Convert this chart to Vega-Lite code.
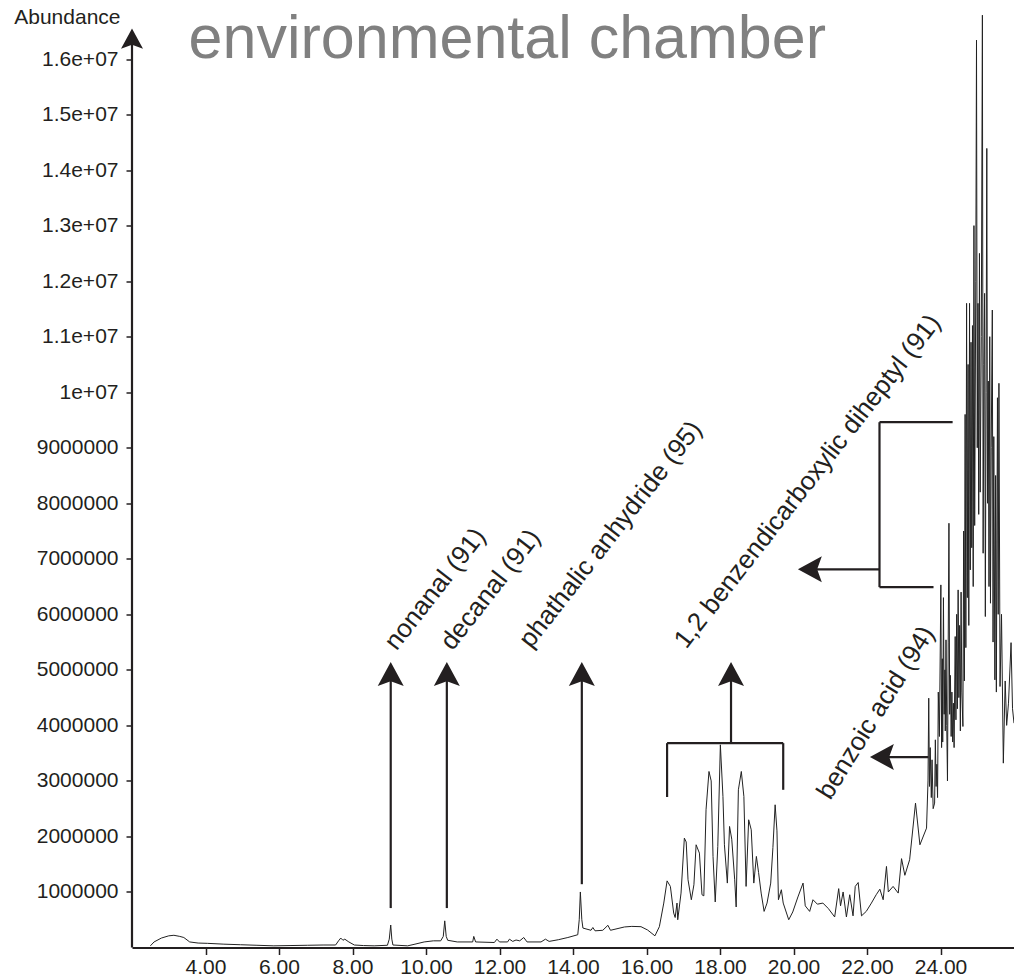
{
  "$schema": "https://vega.github.io/schema/vega-lite/v6.json",
  "width": 882,
  "height": 944,
  "autosize": {"type": "none"},
  "padding": {"left": 132, "top": 3.5, "right": 0, "bottom": 32.5},
  "background": "white",
  "config": {"view": {"stroke": null}, "font": "Liberation Sans"},
  "datasets": {
    "trace": [
      {"t": 2.5, "a": 30000}, {"t": 2.6, "a": 100000}, {"t": 2.8, "a": 170000}, {"t": 3.0, "a": 210000}, {"t": 3.14, "a": 220000}, {"t": 3.3, "a": 200000}, {"t": 3.41, "a": 180000}, {"t": 3.57, "a": 100000}, {"t": 3.8, "a": 80000}, {"t": 4.05, "a": 75000}, {"t": 4.5, "a": 60000}, {"t": 4.95, "a": 50000}, {"t": 5.4, "a": 40000}, {"t": 5.86, "a": 30000}, {"t": 6.3, "a": 35000}, {"t": 6.77, "a": 40000}, {"t": 7.2, "a": 45000}, {"t": 7.54, "a": 45000}, {"t": 7.62, "a": 120000}, {"t": 7.68, "a": 170000}, {"t": 7.74, "a": 130000}, {"t": 7.79, "a": 150000}, {"t": 7.9, "a": 100000}, {"t": 8.05, "a": 45000}, {"t": 8.3, "a": 35000}, {"t": 8.59, "a": 30000}, {"t": 8.95, "a": 40000}, {"t": 9.0, "a": 150000}, {"t": 9.04, "a": 405000}, {"t": 9.07, "a": 150000}, {"t": 9.1, "a": 45000}, {"t": 9.5, "a": 30000}, {"t": 9.7, "a": 60000}, {"t": 9.95, "a": 100000}, {"t": 10.2, "a": 120000}, {"t": 10.4, "a": 120000}, {"t": 10.47, "a": 200000}, {"t": 10.51, "a": 480000}, {"t": 10.55, "a": 200000}, {"t": 10.59, "a": 130000}, {"t": 10.85, "a": 100000}, {"t": 11.27, "a": 100000}, {"t": 11.3, "a": 200000}, {"t": 11.35, "a": 100000}, {"t": 11.86, "a": 90000}, {"t": 11.93, "a": 150000}, {"t": 12.0, "a": 100000}, {"t": 12.22, "a": 100000}, {"t": 12.27, "a": 150000}, {"t": 12.36, "a": 110000}, {"t": 12.45, "a": 135000}, {"t": 12.55, "a": 120000}, {"t": 12.66, "a": 180000}, {"t": 12.75, "a": 100000}, {"t": 13.13, "a": 100000}, {"t": 13.25, "a": 150000}, {"t": 13.35, "a": 110000}, {"t": 13.6, "a": 140000}, {"t": 13.86, "a": 180000}, {"t": 14.13, "a": 230000}, {"t": 14.17, "a": 500000}, {"t": 14.2, "a": 1000000}, {"t": 14.24, "a": 500000}, {"t": 14.27, "a": 350000}, {"t": 14.49, "a": 310000}, {"t": 14.54, "a": 360000}, {"t": 14.6, "a": 300000}, {"t": 14.81, "a": 310000}, {"t": 14.95, "a": 400000}, {"t": 15.02, "a": 310000}, {"t": 15.4, "a": 370000}, {"t": 15.6, "a": 380000}, {"t": 15.85, "a": 375000}, {"t": 16.03, "a": 315000}, {"t": 16.23, "a": 210000}, {"t": 16.35, "a": 375000}, {"t": 16.47, "a": 800000}, {"t": 16.56, "a": 1200000}, {"t": 16.65, "a": 1100000}, {"t": 16.74, "a": 620000}, {"t": 16.78, "a": 540000}, {"t": 16.83, "a": 800000}, {"t": 16.85, "a": 500000}, {"t": 16.94, "a": 980000}, {"t": 17.03, "a": 1970000}, {"t": 17.08, "a": 1900000}, {"t": 17.13, "a": 1220000}, {"t": 17.22, "a": 860000}, {"t": 17.29, "a": 1130000}, {"t": 17.35, "a": 1850000}, {"t": 17.44, "a": 1700000}, {"t": 17.51, "a": 950000}, {"t": 17.56, "a": 930000}, {"t": 17.62, "a": 2480000}, {"t": 17.7, "a": 3170000}, {"t": 17.76, "a": 3000000}, {"t": 17.81, "a": 1640000}, {"t": 17.87, "a": 820000}, {"t": 17.94, "a": 1820000}, {"t": 18.01, "a": 3650000}, {"t": 18.08, "a": 2720000}, {"t": 18.12, "a": 1850000}, {"t": 18.2, "a": 1160000}, {"t": 18.26, "a": 2180000}, {"t": 18.32, "a": 1950000}, {"t": 18.4, "a": 1220000}, {"t": 18.44, "a": 730000}, {"t": 18.5, "a": 2840000}, {"t": 18.58, "a": 3170000}, {"t": 18.65, "a": 2720000}, {"t": 18.71, "a": 1100000}, {"t": 18.78, "a": 2300000}, {"t": 18.85, "a": 2120000}, {"t": 18.92, "a": 1160000}, {"t": 18.99, "a": 1640000}, {"t": 19.05, "a": 1350000}, {"t": 19.12, "a": 980000}, {"t": 19.2, "a": 650000}, {"t": 19.28, "a": 800000}, {"t": 19.38, "a": 1160000}, {"t": 19.44, "a": 1800000}, {"t": 19.5, "a": 2570000}, {"t": 19.55, "a": 2100000}, {"t": 19.59, "a": 860000}, {"t": 19.67, "a": 1040000}, {"t": 19.72, "a": 800000}, {"t": 19.87, "a": 500000}, {"t": 19.98, "a": 640000}, {"t": 20.12, "a": 910000}, {"t": 20.26, "a": 1160000}, {"t": 20.32, "a": 750000}, {"t": 20.44, "a": 650000}, {"t": 20.53, "a": 860000}, {"t": 20.65, "a": 780000}, {"t": 20.8, "a": 800000}, {"t": 20.95, "a": 700000}, {"t": 21.12, "a": 550000}, {"t": 21.23, "a": 1060000}, {"t": 21.28, "a": 750000}, {"t": 21.35, "a": 1000000}, {"t": 21.44, "a": 550000}, {"t": 21.53, "a": 950000}, {"t": 21.62, "a": 570000}, {"t": 21.68, "a": 1100000}, {"t": 21.76, "a": 1170000}, {"t": 21.85, "a": 570000}, {"t": 21.98, "a": 650000}, {"t": 22.12, "a": 800000}, {"t": 22.25, "a": 950000}, {"t": 22.35, "a": 1050000}, {"t": 22.44, "a": 860000}, {"t": 22.53, "a": 1460000}, {"t": 22.58, "a": 1000000}, {"t": 22.71, "a": 1100000}, {"t": 22.85, "a": 980000}, {"t": 22.94, "a": 1600000}, {"t": 23.03, "a": 1300000}, {"t": 23.16, "a": 1580000}, {"t": 23.32, "a": 2600000}, {"t": 23.44, "a": 1850000}, {"t": 23.62, "a": 2150000},
      {"t": 23.66, "a": 3000000}, {"t": 23.68, "a": 4490000}, {"t": 23.7, "a": 2900000}, {"t": 23.72, "a": 3600000}, {"t": 23.75, "a": 2700000}, {"t": 23.77, "a": 3380000}, {"t": 23.8, "a": 2500000}, {"t": 23.84, "a": 2600000}, {"t": 23.86, "a": 3740000}, {"t": 23.88, "a": 2900000}, {"t": 23.9, "a": 3300000}, {"t": 23.92, "a": 2700000}, {"t": 23.94, "a": 4600000}, {"t": 23.97, "a": 3800000}, {"t": 24.01, "a": 6530000}, {"t": 24.03, "a": 3600000}, {"t": 24.05, "a": 5200000}, {"t": 24.06, "a": 3700000}, {"t": 24.08, "a": 6300000}, {"t": 24.1, "a": 4200000}, {"t": 24.12, "a": 5000000}, {"t": 24.13, "a": 3900000}, {"t": 24.15, "a": 5540000}, {"t": 24.17, "a": 4000000}, {"t": 24.19, "a": 3000000}, {"t": 24.21, "a": 5500000}, {"t": 24.23, "a": 7640000}, {"t": 24.25, "a": 4200000}, {"t": 24.27, "a": 4900000}, {"t": 24.29, "a": 3800000}, {"t": 24.31, "a": 4600000}, {"t": 24.33, "a": 3700000}, {"t": 24.35, "a": 4400000}, {"t": 24.37, "a": 3600000}, {"t": 24.4, "a": 5600000}, {"t": 24.42, "a": 4100000}, {"t": 24.44, "a": 6000000}, {"t": 24.46, "a": 4300000}, {"t": 24.48, "a": 6440000}, {"t": 24.5, "a": 4500000}, {"t": 24.52, "a": 5800000}, {"t": 24.54, "a": 3900000}, {"t": 24.56, "a": 6400000}, {"t": 24.58, "a": 4600000}, {"t": 24.61, "a": 3980000}, {"t": 24.63, "a": 7500000}, {"t": 24.65, "a": 4800000}, {"t": 24.67, "a": 9600000}, {"t": 24.69, "a": 5400000}, {"t": 24.71, "a": 11600000}, {"t": 24.73, "a": 6300000}, {"t": 24.75, "a": 10500000}, {"t": 24.77, "a": 5800000}, {"t": 24.79, "a": 11600000}, {"t": 24.81, "a": 6800000}, {"t": 24.83, "a": 10900000}, {"t": 24.85, "a": 7200000}, {"t": 24.87, "a": 11200000}, {"t": 24.89, "a": 6500000}, {"t": 24.91, "a": 13000000}, {"t": 24.93, "a": 7600000}, {"t": 24.96, "a": 12000000}, {"t": 24.98, "a": 16340000}, {"t": 25.0, "a": 9000000}, {"t": 25.02, "a": 11600000}, {"t": 25.04, "a": 7800000}, {"t": 25.06, "a": 12500000}, {"t": 25.08, "a": 8200000}, {"t": 25.11, "a": 11000000}, {"t": 25.14, "a": 16790000}, {"t": 25.16, "a": 7100000}, {"t": 25.18, "a": 10500000}, {"t": 25.2, "a": 11780000}, {"t": 25.22, "a": 5960000}, {"t": 25.24, "a": 10000000}, {"t": 25.26, "a": 14390000}, {"t": 25.28, "a": 8000000}, {"t": 25.3, "a": 10200000}, {"t": 25.32, "a": 6500000}, {"t": 25.34, "a": 11000000}, {"t": 25.36, "a": 6200000}, {"t": 25.38, "a": 9000000}, {"t": 25.41, "a": 11480000}, {"t": 25.43, "a": 5500000}, {"t": 25.45, "a": 9200000}, {"t": 25.48, "a": 4820000}, {"t": 25.5, "a": 8500000}, {"t": 25.52, "a": 4600000}, {"t": 25.55, "a": 9900000}, {"t": 25.57, "a": 6000000}, {"t": 25.59, "a": 10160000}, {"t": 25.62, "a": 4700000}, {"t": 25.66, "a": 6000000}, {"t": 25.71, "a": 3320000}, {"t": 25.76, "a": 4800000}, {"t": 25.8, "a": 4000000}, {"t": 25.85, "a": 4400000}, {"t": 25.92, "a": 5490000}, {"t": 25.96, "a": 4300000}, {"t": 26.0, "a": 4040000}
    ],
    "segments": [
      {"t": 2.0, "a": 0, "t2": 2.0, "a2": 16400000},
      {"t": 9.04, "a": 710000, "t2": 9.04, "a2": 5000000},
      {"t": 10.567, "a": 710000, "t2": 10.567, "a2": 5000000},
      {"t": 14.24, "a": 1140000, "t2": 14.24, "a2": 5000000},
      {"t": 16.56, "a": 3680000, "t2": 19.72, "a2": 3680000},
      {"t": 16.56, "a": 3680000, "t2": 16.56, "a2": 2710000},
      {"t": 19.72, "a": 3680000, "t2": 19.72, "a2": 2840000},
      {"t": 18.3, "a": 3680000, "t2": 18.3, "a2": 5000000},
      {"t": 23.67, "a": 3430000, "t2": 22.3, "a2": 3430000},
      {"t": 22.34, "a": 9460000, "t2": 22.34, "a2": 6490000},
      {"t": 22.34, "a": 9460000, "t2": 24.33, "a2": 9460000},
      {"t": 22.34, "a": 6490000, "t2": 23.81, "a2": 6490000},
      {"t": 22.34, "a": 6810000, "t2": 20.3, "a2": 6810000}
    ],
    "heads": [
      {"t": 9.04, "a": 5140000, "dir": "up"},
      {"t": 10.567, "a": 5140000, "dir": "up"},
      {"t": 14.24, "a": 5140000, "dir": "up"},
      {"t": 18.3, "a": 5140000, "dir": "up"},
      {"t": 22.08, "a": 3430000, "dir": "left"},
      {"t": 20.12, "a": 6810000, "dir": "left"}
    ],
    "axishead": [
      {"t": 2.0, "a": 16550000}
    ],
    "labels": [
      {"t": 9.2, "a": 5330000, "label": "nonanal (91)", "group": "a"},
      {"t": 10.72, "a": 5330000, "label": "decanal (91)", "group": "a"},
      {"t": 12.86, "a": 5370000, "label": "phathalic anhydride (95)", "group": "a"},
      {"t": 17.08, "a": 5360000, "label": "1,2 benzendicarboxylic diheptyl (91)", "group": "a"},
      {"t": 21.0, "a": 2640000, "label": "benzoic acid (94)", "group": "b"}
    ],
    "heading": [
      {"t": 3.54, "a": 16020000, "label": "environmental chamber"}
    ]
  },
  "encoding": {
    "x": {
      "field": "t", "type": "quantitative",
      "scale": {"domain": [2, 26], "nice": false, "zero": false},
      "axis": {
        "title": null, "values": [4, 6, 8, 10, 12, 14, 16, 18, 20, 22, 24], "format": ".2f",
        "grid": false, "domain": true, "domainColor": "#231f20", "domainWidth": 2,
        "ticks": true, "tickColor": "#231f20", "tickWidth": 1.5, "tickSize": 7,
        "labelFontSize": 21, "labelColor": "#231f20", "labelPadding": 2, "labelFont": "Liberation Sans"
      }
    },
    "y": {
      "field": "a", "type": "quantitative",
      "scale": {"domain": [0, 17000000], "nice": false, "zero": true},
      "axis": {
        "values": [1000000, 2000000, 3000000, 4000000, 5000000, 6000000, 7000000, 8000000, 9000000, 10000000, 11000000, 12000000, 13000000, 14000000, 15000000, 16000000],
        "labelExpr": "datum.value >= 10000000 ? (datum.value / 10000000) + 'e+07' : format(datum.value, 'd')",
        "grid": false, "domain": false,
        "ticks": true, "tickColor": "#231f20", "tickWidth": 1.5, "tickSize": 6,
        "labelFontSize": 21, "labelColor": "#231f20", "labelPadding": 8, "labelFont": "Liberation Sans",
        "title": "Abundance", "titleAngle": 0, "titleAlign": "right", "titleBaseline": "alphabetic",
        "titleX": -12, "titleY": 20, "titleFontSize": 21, "titleFontWeight": "normal", "titleColor": "#231f20", "titleFont": "Liberation Sans"
      }
    }
  },
  "layer": [
    {
      "data": {"name": "trace"},
      "mark": {"type": "line", "color": "#222222", "strokeWidth": 1, "interpolate": "linear"}
    },
    {
      "data": {"name": "segments"},
      "mark": {"type": "rule", "color": "#231f20", "strokeWidth": 2.2},
      "encoding": {"x2": {"field": "t2"}, "y2": {"field": "a2"}}
    },
    {
      "data": {"name": "heads"},
      "transform": [{"filter": "datum.dir == 'up'"}],
      "mark": {"type": "point", "shape": "M0,0L0.5,0.92L0,0.74L-0.5,0.92Z", "size": 2704, "filled": true, "color": "#231f20", "opacity": 1, "strokeWidth": 0}
    },
    {
      "data": {"name": "heads"},
      "transform": [{"filter": "datum.dir == 'left'"}],
      "mark": {"type": "point", "shape": "M0,0L0.5,0.92L0,0.74L-0.5,0.92Z", "size": 2704, "angle": 270, "filled": true, "color": "#231f20", "opacity": 1, "strokeWidth": 0}
    },
    {
      "data": {"name": "axishead"},
      "mark": {"type": "point", "shape": "M0,0L0.5,0.92L0,0.74L-0.5,0.92Z", "size": 1936, "filled": true, "color": "#231f20", "opacity": 1, "strokeWidth": 0}
    },
    {
      "data": {"name": "labels"},
      "transform": [{"filter": "datum.group == 'a'"}],
      "mark": {"type": "text", "angle": -52, "align": "left", "baseline": "alphabetic", "fontSize": 26, "color": "#231f20", "font": "Liberation Sans"},
      "encoding": {"text": {"field": "label"}}
    },
    {
      "data": {"name": "labels"},
      "transform": [{"filter": "datum.group == 'b'"}],
      "mark": {"type": "text", "angle": -58, "align": "left", "baseline": "alphabetic", "fontSize": 26, "color": "#231f20", "font": "Liberation Sans"},
      "encoding": {"text": {"field": "label"}}
    },
    {
      "data": {"name": "heading"},
      "mark": {"type": "text", "align": "left", "baseline": "alphabetic", "fontSize": 61, "color": "#808080", "font": "Liberation Sans"},
      "encoding": {"text": {"field": "label"}}
    }
  ]
}
